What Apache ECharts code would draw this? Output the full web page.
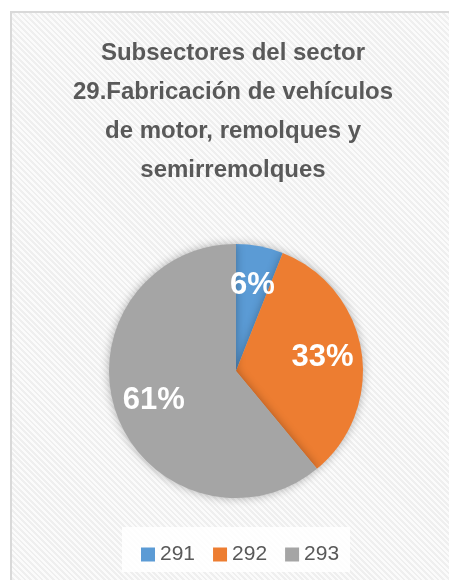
<!DOCTYPE html>
<html><head><meta charset="utf-8">
<script src="https://cdn.jsdelivr.net/npm/echarts@6/dist/echarts.min.js"></script>
<style>
html,body{margin:0;padding:0;background:#fff;width:449px;height:580px;overflow:hidden;}
#bg{position:absolute;left:10px;top:11px;width:460px;height:590px;border:2px solid #d9d9d9;box-sizing:border-box;
background:repeating-linear-gradient(45deg,#fbfbfb 0px,#fbfbfb 2px,#efefef 2px,#efefef 4px);}
#legbox{position:absolute;left:122px;top:527px;width:228px;height:45px;background:rgba(255,255,255,0.85);}
#chart{position:absolute;left:0;top:0;width:449px;height:580px;}
</style></head>
<body>
<div id="bg"></div><div id="legbox"></div>
<div id="chart"></div>
<script>
const titleText = 'Subsectores del sector\n29.Fabricación de vehículos\nde motor, remolques y\nsemirremolques';
const categories = ['291', '292', '293'];
const values = [6, 33, 61];
const colors = ['#5b9bd5', '#ed7d31', '#a5a5a5'];

const data = categories.map((c, i) => ({ name: c, value: values[i], itemStyle: { color: colors[i] } }));

const chart = echarts.init(document.getElementById('chart'), null, { renderer: 'canvas' });
chart.setOption({
  animation: false,
  title: {
    text: titleText,
    left: 228, textAlign: 'center', top: 29,
    textStyle: { fontFamily: 'Liberation Sans', fontWeight: 'bold', fontSize: 24, lineHeight: 39, color: '#595959' }
  },
  legend: {
    data: categories,
    left: 136, top: 539,
    itemWidth: 14, itemHeight: 14, itemGap: 18,
    icon: 'rect',
    textStyle: { fontFamily: 'Liberation Sans', fontSize: 21, color: '#595959' }
  },
  series: [
    {
      type: 'pie',
      center: [236, 371], radius: [0, 127],
      startAngle: 90, clockwise: true,
      label: { show: false }, labelLine: { show: false },
      itemStyle: { shadowBlur: 10, shadowColor: 'rgba(0,0,0,0.3)' },
      emphasis: { disabled: true },
      data: data
    },
    {
      type: 'pie',
      center: [236, 371], radius: [42, 127],
      startAngle: 90, clockwise: true,
      silent: true,
      itemStyle: { color: 'transparent' },
      label: {
        show: true, position: 'inner', formatter: '{c}%',
        fontFamily: 'Liberation Sans', fontWeight: 'bold', fontSize: 31, color: '#ffffff'
      },
      labelLine: { show: false },
      data: categories.map((c, i) => ({ name: c, value: values[i], itemStyle: { color: 'transparent' } }))
    }
  ]
});
</script>
</body></html>
